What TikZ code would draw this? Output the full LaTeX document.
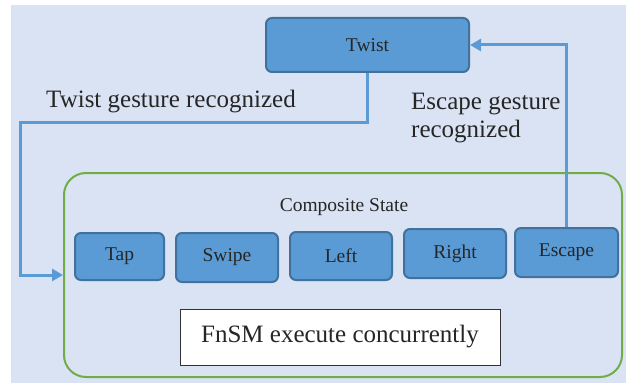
\documentclass[tikz,border=0pt]{standalone}
\usepackage{fontspec}
\setmainfont{Liberation Serif}
\usetikzlibrary{arrows.meta, positioning}

\definecolor{bgblue}{RGB}{218,227,243}
\definecolor{stfill}{RGB}{91,155,213}
\definecolor{stdraw}{RGB}{65,113,156}
\definecolor{compgreen}{RGB}{112,173,71}

\tikzset{
  state/.style={draw=stdraw, fill=stfill, line width=2pt, rounded corners=6pt,
    minimum width=102pt, minimum height=48pt, text=black!85,
    font=\fontsize{19.5}{23}\selectfont},
  flow/.style={stfill, line width=3pt, -{Triangle[length=11pt,width=12pt]}},
  biglabel/.style={text=black!85, font=\fontsize{25}{28}\selectfont}
}

\begin{document}
\begin{tikzpicture}[x=1pt,y=-1pt]
    \useasboundingbox (0,0) rectangle (626,385);
    % Background
    \fill[bgblue] (11,5) rectangle (626,383);

    % Twist state
    \node[state, minimum width=203pt, minimum height=54pt] (twist) at (367.5,45) {Twist};

    % Composite state
    \node[draw=compgreen, line width=2pt, rounded corners=22pt,
          minimum width=558pt, minimum height=204pt] (comp) at (343,275) {};
    \node[text=black!85, font=\fontsize{19.5}{23}\selectfont] (comptitle) at (344,207) {Composite State};

    % Sub states
    \node[state, minimum width=89pt, minimum height=47pt] (tap) at (119.5,256.5) {Tap};
    \node[state, minimum height=49pt] (swipe) at (227,257.5) {Swipe};
    \node[state] (left) at (341,256) {Left};
    \node[state, minimum height=49pt] (right) at (455,253.5) {Right};
    \node[state, minimum width=103pt, minimum height=49pt] (escape) at (566.5,252.5) {Escape};

    % Concurrent execution note
    \node[draw=black!80, fill=white, line width=1pt, minimum width=320pt, minimum height=56pt,
          biglabel] (fnsm) at (340,337) {FnSM execute concurrently};

    % Transitions
    \coordinate (bend) at (20,123);
    \draw[flow] (twist.south) |- (bend) |- (comp.west);
    \draw[flow] (escape.north) |- (twist.east);

    % Transition labels
    \node[biglabel, anchor=base west, inner sep=0pt] (twistlbl) at (46,108) {Twist gesture recognized};
    \node[biglabel, anchor=north west, inner sep=0pt, align=left] (esclbl) at (411,93) {Escape gesture\\recognized};
\end{tikzpicture}
\end{document}
